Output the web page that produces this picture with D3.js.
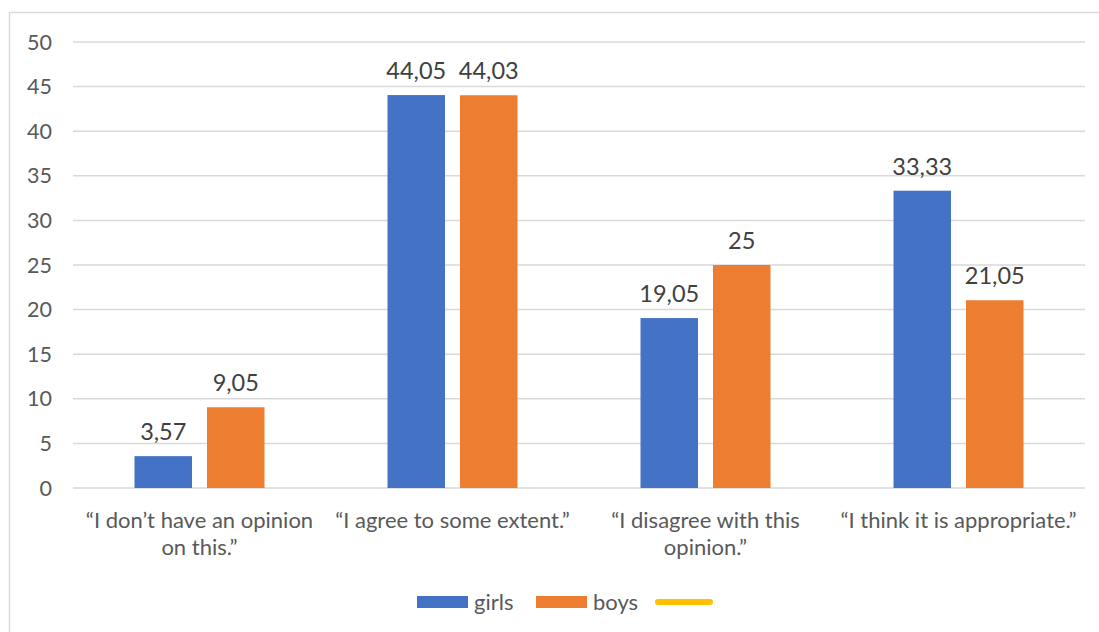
<!DOCTYPE html>
<html>
<head>
<meta charset="utf-8">
<script src="https://cdn.jsdelivr.net/npm/d3@7"></script>
<style>
  body { margin: 0; background: #fff; }
  svg { display: block; font-family: Lato, "Open Sans", sans-serif; }
</style>
</head>
<body>
<div id="chart-area"></div>
<script>
// data
var categories = [
  ["“I don’t have an opinion", "on this.”"],
  ["“I agree to some extent.”"],
  ["“I disagree with this", "opinion.”"],
  ["“I think it is appropriate.”"]
];
var seriesNames = ["girls", "boys"];
var girls = [3.57, 44.05, 19.05, 33.33];
var boys = [9.05, 44.03, 25, 21.05];
var labelsGirls = ["3,57", "44,05", "19,05", "33,33"];
var labelsBoys = ["9,05", "44,03", "25", "21,05"];
var yTicks = [0, 5, 10, 15, 20, 25, 30, 35, 40, 45, 50];
var colors = ["#4472C4", "#ED7D31", "#FFC000"];

var W = 1099, H = 632;
var svg = d3.select("#chart-area").append("svg")
  .attr("width", W).attr("height", H);

// outer frame
svg.append("rect").attr("x", 9.5).attr("y", 12.5)
  .attr("width", W + 20).attr("height", H + 20)
  .attr("fill", "none").attr("stroke", "#d9d9d9").attr("stroke-width", 1.5);

var x0 = d3.scaleBand().domain(d3.range(categories.length)).range([73, 1085]);
var y = d3.scaleLinear().domain([0, 50]).range([488, 42]);
var barW = 57.5, gap = 15;

// gridlines
svg.selectAll("line.grid").data(yTicks).enter().append("line")
  .attr("class", "grid")
  .attr("x1", 73).attr("x2", 1085)
  .attr("y1", function(d) { return y(d); }).attr("y2", function(d) { return y(d); })
  .attr("stroke", "#d9d9d9").attr("stroke-width", 1.5);

// y tick labels
svg.selectAll("text.ytick").data(yTicks).enter().append("text")
  .attr("class", "ytick")
  .attr("x", 52).attr("y", function(d) { return y(d); })
  .attr("dy", "0.35em").attr("text-anchor", "end")
  .attr("font-size", 21.5).attr("fill", "#595959")
  .text(function(d) { return d; });

var series = [girls, boys];
var labels = [labelsGirls, labelsBoys];
series.forEach(function(vals, s) {
  var off = s === 0 ? -(gap / 2 + barW) : gap / 2;
  svg.selectAll("rect.s" + s).data(vals).enter().append("rect")
    .attr("class", "s" + s)
    .attr("x", function(d, i) { return x0(i) + x0.bandwidth() / 2 + off; })
    .attr("y", function(d) { return y(d); })
    .attr("width", barW)
    .attr("height", function(d) { return y(0) - y(d); })
    .attr("fill", colors[s]);
  svg.selectAll("text.l" + s).data(vals).enter().append("text")
    .attr("class", "l" + s)
    .attr("x", function(d, i) { return x0(i) + x0.bandwidth() / 2 + off + barW / 2; })
    .attr("y", function(d) { return y(d) - 16; })
    .attr("text-anchor", "middle")
    .attr("font-size", 23.5).attr("fill", "#404040")
    .text(function(d, i) { return labels[s][i]; });
});

// category labels
var cat = svg.selectAll("text.cat").data(categories).enter().append("text")
  .attr("class", "cat")
  .attr("text-anchor", "middle")
  .attr("font-size", 22).attr("fill", "#595959");
cat.selectAll("tspan").data(function(d, i) { return d.map(function(t) { return [t, i]; }); })
  .enter().append("tspan")
  .attr("x", function(d) { return x0(d[1]) + x0.bandwidth() / 2; })
  .attr("y", function(d, j) { return 528 + j * 27; })
  .text(function(d) { return d[0]; });

// legend
var legend = svg.append("g");
var legItems = [
  { name: "girls", x: 417, color: colors[0] },
  { name: "boys", x: 536, color: colors[1] }
];
legItems.forEach(function(it) {
  legend.append("rect").attr("x", it.x).attr("y", 596)
    .attr("width", 51).attr("height", 12).attr("fill", it.color);
  legend.append("text").attr("x", it.x + 57).attr("y", 610)
    .attr("font-size", 22).attr("fill", "#595959").text(it.name);
});
legend.append("line").attr("x1", 658).attr("x2", 710)
  .attr("y1", 602).attr("y2", 602)
  .attr("stroke", colors[2]).attr("stroke-width", 6).attr("stroke-linecap", "round");
</script>
</body>
</html>
